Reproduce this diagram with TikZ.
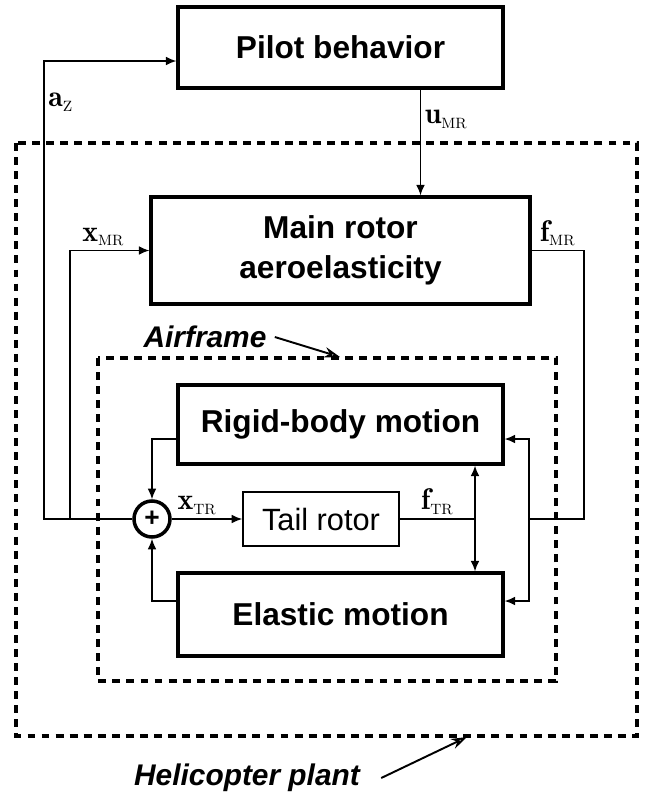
\documentclass[tikz,border=0pt]{standalone}
\usepackage{fontspec}
\setsansfont{Liberation Sans}
\usetikzlibrary{arrows.meta}

\begin{document}
\begin{tikzpicture}[
      block/.style={rectangle, draw, line width=1.8pt, minimum width=6.5cm, minimum height=1.6cm, align=center, font=\fontsize{18}{23}\selectfont\sffamily\bfseries},
      small/.style={rectangle, draw, line width=0.9pt, minimum width=3.12cm, minimum height=1.08cm, font=\fontsize{17.5}{20}\selectfont\sffamily},
      sumnode/.style={circle, draw, line width=2pt, minimum size=0.72cm, inner sep=0pt, font=\fontsize{15}{15}\selectfont\sffamily\bfseries},
      arrow/.style={->, line width=0.85pt, >={Latex[length=6pt,width=5pt]}},
      wire/.style={line width=0.85pt},
      frame/.style={line width=1.8pt, dash pattern=on 4.5pt off 3.5pt},
      sig/.style={font=\fontsize{17}{20}\selectfont, inner sep=2pt},
      tag/.style={font=\fontsize{17}{20}\selectfont\sffamily\bfseries\itshape, inner sep=0pt},
      pointer/.style={->, line width=1.1pt, >={Stealth[open, length=9pt, width=6pt]}}
    ]
      \useasboundingbox (0,0) rectangle (12.98,-15.96);

      \draw[frame] (0.32,-2.86) rectangle (12.74,-14.72);
      \draw[frame] (1.96,-7.16) rectangle (11.12,-13.62);

      \node[block] (pilot)   at (6.81,-0.95)  [minimum height=1.62cm] {Pilot behavior};
      \node[block] (rotor)   at (6.81,-5.01)  [minimum width=7.58cm, minimum height=2.14cm] {Main rotor\\aeroelasticity};
      \node[block] (rigid)   at (6.81,-8.49)  [minimum height=1.58cm] {Rigid-body motion};
      \node[block] (elastic) at (6.81,-12.29) [minimum height=1.66cm] {Elastic motion};
      \node[small] (tail)    at (6.42,-10.38) {Tail rotor};
      \node[sumnode] (sum)   at (3.04,-10.38) {+};

      \coordinate (azturn)  at (0.88,-1.22);
      \coordinate (xmrturn) at (1.4,-10.38);
      \coordinate (fmrturn) at (11.68,-10.38);
      \coordinate (rjoin)   at (10.58,-10.38);
      \coordinate (ftr)     at (9.5,-10.38);

      \draw[arrow] (sum.west) -- (sum.west -| azturn) -- node[pos=0.91, right, sig] {$\mathbf{a}_{\scriptscriptstyle\mathrm{Z}}$} (azturn) -- (azturn -| pilot.west);
      \draw[arrow] (xmrturn) |- (rotor.west) node[pos=0.71, above, sig] {$\mathbf{x}_{\scriptscriptstyle\mathrm{MR}}$};
      \draw[arrow] ([xshift=1.6cm]pilot.south) -- ([xshift=1.6cm]rotor.north) node[pos=0.28, right, sig] {$\mathbf{u}_{\scriptscriptstyle\mathrm{MR}}$};
      \draw[wire]  (rotor.east) -| (fmrturn) node[pos=0.25, above, sig] {$\mathbf{f}_{\scriptscriptstyle\mathrm{MR}}$} -- (rjoin);

      \draw[arrow] (rjoin) |- ([yshift=-0.29cm]rigid.east);
      \draw[arrow] (rjoin) |- ([yshift=0.27cm]elastic.east);
      \draw[arrow] ([yshift=-0.29cm]rigid.west) -| (sum.north);
      \draw[arrow] ([yshift=0.27cm]elastic.west) -| (sum.south);

      \draw[arrow] (sum.east) -- (tail.west) node[pos=0.36, above, sig] {$\mathbf{x}_{\scriptscriptstyle\mathrm{TR}}$};
      \draw[wire]  (tail.east) -- (ftr) node[midway, above, sig] {$\mathbf{f}_{\scriptscriptstyle\mathrm{TR}}$};
      \draw[arrow, <->] (rigid.south -| ftr) -- (elastic.north -| ftr);

      \node[tag] (airlabel)   at (4.1,-6.74)   {Airframe};
      \node[tag] (plantlabel) at (4.94,-15.56) {Helicopter plant};
      \coordinate (airtip)   at (6.8,-7.14);
      \coordinate (planttip) at (9.34,-14.74);
      \draw[pointer] ([xshift=0.16cm]airlabel.east) -- (airtip);
      \draw[pointer] ([xshift=0.42cm]plantlabel.east) -- (planttip);
    \end{tikzpicture}
\end{document}
